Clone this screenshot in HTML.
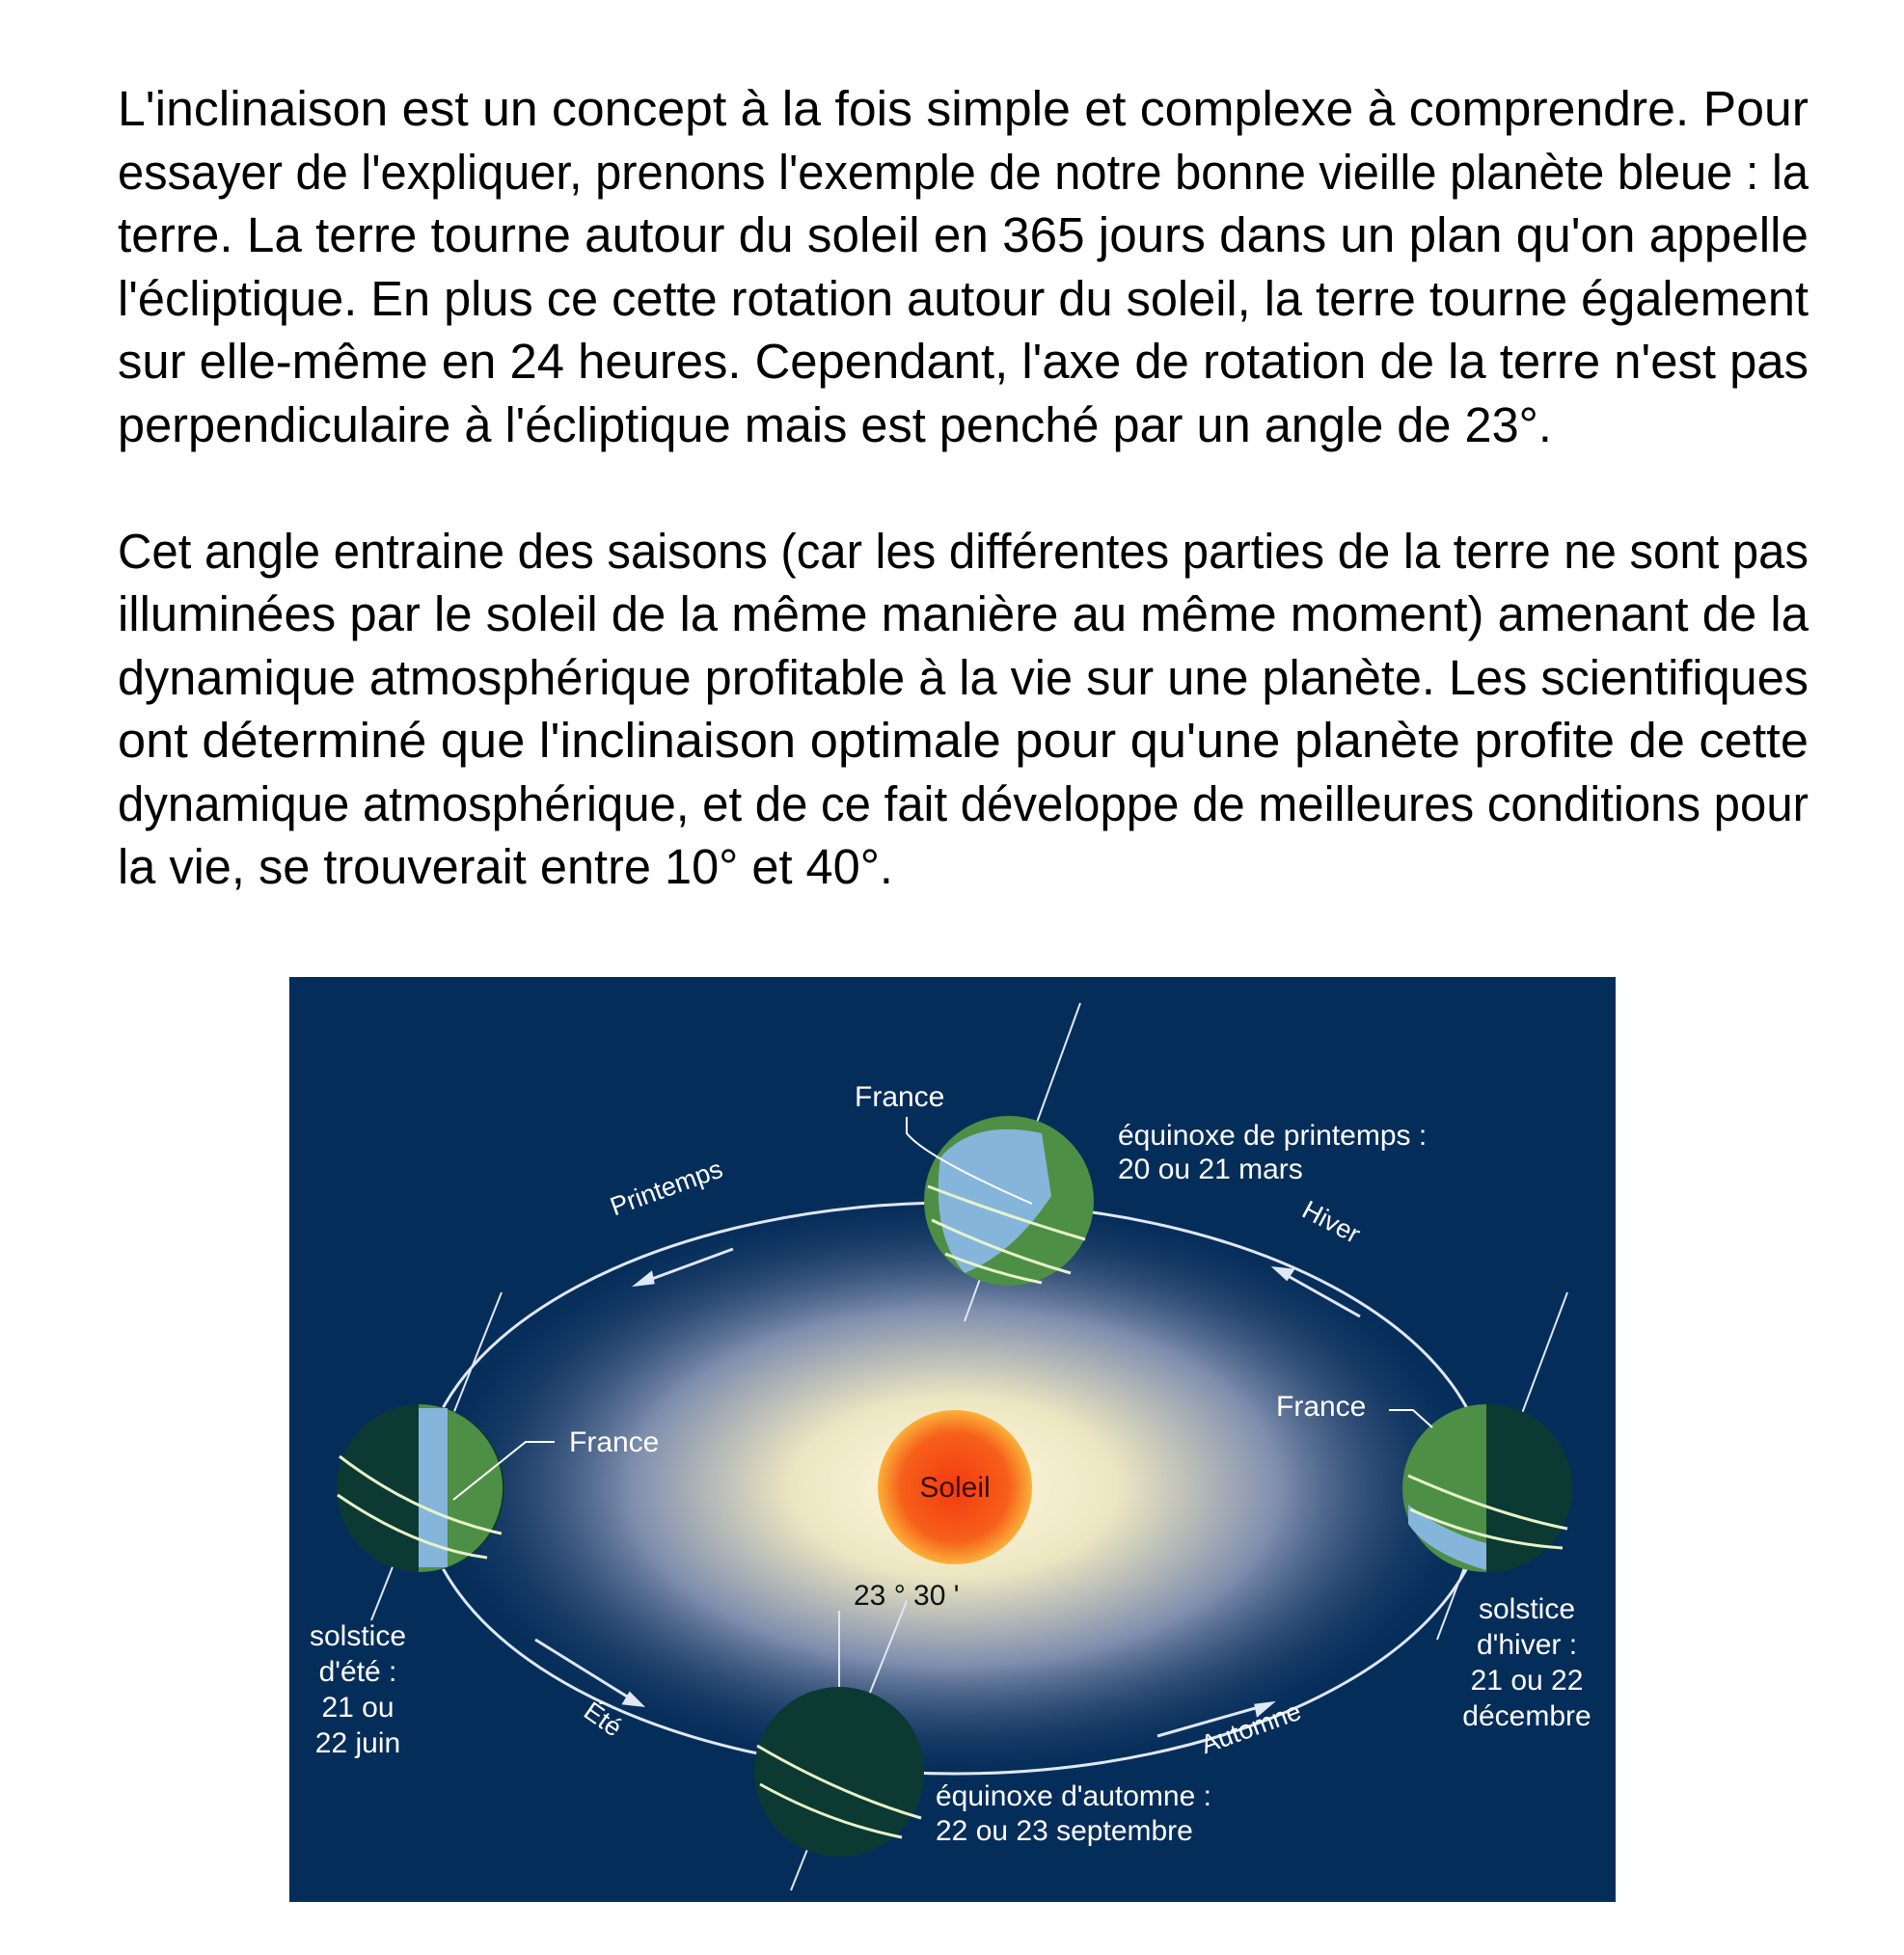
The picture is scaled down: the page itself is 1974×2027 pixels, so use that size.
<!DOCTYPE html>
<html><head><meta charset="utf-8">
<style>
html,body{margin:0;padding:0;background:#fff;width:1974px;height:2027px;overflow:hidden}
#text{position:absolute;left:122px;top:80px;width:1753px;font-family:"Liberation Sans",sans-serif;font-size:51px;color:#000}
.ln{height:65.5px;line-height:65.5px;white-space:nowrap}
.ln span{display:inline-block;transform-origin:0 50%}
#fig{position:absolute;left:300px;top:1013px}
</style></head><body>
<div id="text">
<div class="ln j"><span>L'inclinaison est un concept à la fois simple et complexe à comprendre. Pour</span></div>
<div class="ln j"><span>essayer de l'expliquer, prenons l'exemple de notre bonne vieille planète bleue : la</span></div>
<div class="ln j"><span>terre. La terre tourne autour du soleil en 365 jours dans un plan qu'on appelle</span></div>
<div class="ln j"><span>l'écliptique. En plus ce cette rotation autour du soleil, la terre tourne également</span></div>
<div class="ln j"><span>sur elle-même en 24 heures. Cependant, l'axe de rotation de la terre n'est pas</span></div>
<div class="ln"><span>perpendiculaire à l'écliptique mais est penché par un angle de 23°.</span></div>
<div class="ln"></div>
<div class="ln j"><span>Cet angle entraine des saisons (car les différentes parties de la terre ne sont pas</span></div>
<div class="ln j"><span>illuminées par le soleil de la même manière au même moment) amenant de la</span></div>
<div class="ln j"><span>dynamique atmosphérique profitable à la vie sur une planète. Les scientifiques</span></div>
<div class="ln j"><span>ont déterminé que l'inclinaison optimale pour qu'une planète profite de cette</span></div>
<div class="ln j"><span>dynamique atmosphérique, et de ce fait développe de meilleures conditions pour</span></div>
<div class="ln"><span>la vie, se trouverait entre 10° et 40°.</span></div>
</div>

<svg id="fig" width="1375" height="959" viewBox="300 1013 1375 959" font-family="Liberation Sans, sans-serif">
<defs>
<radialGradient id="glow" cx="990" cy="1542" r="560" gradientUnits="userSpaceOnUse" gradientTransform="translate(990 1542) scale(1 0.55) translate(-990 -1542)">
<stop offset="0" stop-color="#fffbe0"/><stop offset="0.3" stop-color="#ede6c2"/><stop offset="0.6" stop-color="#7f8eae"/><stop offset="1" stop-color="#082d5a" stop-opacity="0"/></radialGradient>
<radialGradient id="sun"><stop offset="0" stop-color="#f33a10"/><stop offset="0.7" stop-color="#f6601a"/><stop offset="1" stop-color="#fbb03a"/></radialGradient>
</defs>
<rect x="300" y="1013" width="1375" height="959" fill="#052d5a"/>
<ellipse cx="990" cy="1542" rx="620" ry="360" fill="url(#glow)"/>
<ellipse cx="990" cy="1543" rx="553" ry="296" fill="none" stroke="#dfe8f5" stroke-width="3"/>
<g stroke="#dfe8f5" stroke-width="3" fill="#dfe8f5">
<line x1="760" y1="1295" x2="665" y2="1330"/><path d="M660 1332 l15 -12 l2 10z"/>
<line x1="1410" y1="1365" x2="1330" y2="1320"/><path d="M1322 1315 l18 2 l-6 9z"/>
<line x1="555" y1="1700" x2="655" y2="1762"/><path d="M665 1768 l-18 -2 l6 -10z"/>
<line x1="1200" y1="1800" x2="1305" y2="1770"/><path d="M1318 1766 l-14 12 l-2 -10z"/>
</g>
<circle cx="990" cy="1542" r="80" fill="url(#sun)"/>
<text x="990" y="1552" font-size="30" text-anchor="middle" fill="#3a0a05">Soleil</text>

<g>
<line x1="1120" y1="1040" x2="1000" y2="1370" stroke="#dfe8f5" stroke-width="2"/>
<circle cx="1046" cy="1245" r="88" fill="#4e8f46"/>
<path d="M975 1200 Q1010 1160 1080 1175 L1090 1240 Q1050 1300 1000 1320 Q965 1280 975 1200Z" fill="#86b5dc"/>
<path d="M962 1230 Q1040 1260 1125 1285 M966 1265 Q1040 1300 1110 1320 M980 1300 Q1030 1320 1080 1330" stroke="#e6f3c8" stroke-width="3" fill="none"/>
<path d="M940 1158 L940 1175 Q960 1200 1070 1248" stroke="#fff" stroke-width="2" fill="none"/>
</g>
<g>
<line x1="520" y1="1340" x2="385" y2="1680" stroke="#dfe8f5" stroke-width="2"/>
<circle cx="436" cy="1543" r="87" fill="#0c3a32"/>
<path d="M434 1456 A87 87 0 0 1 434 1630Z" fill="#4e8f46"/>
<rect x="434" y="1460" width="30" height="165" fill="#86b5dc"/>
<path d="M352 1510 Q430 1570 520 1590 M350 1550 Q430 1605 505 1615" stroke="#e6f3c8" stroke-width="3" fill="none"/>
<path d="M575 1495 L545 1495 L470 1555" stroke="#fff" stroke-width="2" fill="none"/>
</g>
<g>
<line x1="1625" y1="1340" x2="1490" y2="1700" stroke="#dfe8f5" stroke-width="2"/>
<circle cx="1543" cy="1543" r="87" fill="#0c3a32"/>
<path d="M1541 1456 A87 87 0 0 0 1541 1630Z" fill="#4e8f46"/>
<path d="M1460 1560 Q1500 1590 1541 1600 L1541 1628 Q1480 1610 1460 1580Z" fill="#86b5dc"/>
<path d="M1460 1530 Q1550 1570 1625 1585 M1462 1565 Q1540 1600 1620 1605" stroke="#e6f3c8" stroke-width="3" fill="none"/>
<path d="M1440 1462 L1465 1462 L1485 1480" stroke="#fff" stroke-width="2" fill="none"/>
</g>
<g>
<line x1="940" y1="1660" x2="820" y2="1960" stroke="#dfe8f5" stroke-width="2"/>
<line x1="870" y1="1670" x2="870" y2="1760" stroke="#dfe8f5" stroke-width="2"/>
<circle cx="870" cy="1837" r="88" fill="#0c3a32"/>
<path d="M785 1810 Q870 1860 955 1885 M788 1850 Q860 1890 935 1905" stroke="#e6f3c8" stroke-width="3" fill="none"/>
</g>

<g fill="#fff" font-size="30">
<text x="886" y="1147">France</text>
<text x="1159" y="1187">équinoxe de printemps :</text>
<text x="1159" y="1222">20 ou 21 mars</text>
<text x="694" y="1240" transform="rotate(-20 694 1240)" text-anchor="middle" font-size="27">Printemps</text>
<text x="1376" y="1275" transform="rotate(28 1376 1275)" text-anchor="middle" font-size="27">Hiver</text>
<text x="590" y="1505">France</text>
<text x="1323" y="1468">France</text>
<text x="371" y="1706" text-anchor="middle"><tspan x="371">solstice</tspan><tspan x="371" dy="37">d'été :</tspan><tspan x="371" dy="37">21 ou</tspan><tspan x="371" dy="37">22 juin</tspan></text>
<text x="1583" y="1678" text-anchor="middle"><tspan x="1583">solstice</tspan><tspan x="1583" dy="37">d'hiver :</tspan><tspan x="1583" dy="37">21 ou 22</tspan><tspan x="1583" dy="37">décembre</tspan></text>
<text x="620" y="1790" transform="rotate(35 620 1790)" text-anchor="middle" font-size="27">Été</text>
<text x="1300" y="1800" transform="rotate(-20 1300 1800)" text-anchor="middle" font-size="27">Automne</text>
<text x="970" y="1872">équinoxe d'automne :</text>
<text x="970" y="1908">22 ou 23 septembre</text>
</g>
<text x="885" y="1664" font-size="30" fill="#111">23 ° 30 '</text>
</svg>
<script>
var W=1753;
var spans=document.querySelectorAll('.ln span');
var scales=[],sum=0,n=0;
spans.forEach(function(s,i){
  var w=s.getBoundingClientRect().width;
  if(s.parentNode.classList.contains('j') && w>0){scales[i]=W/w;sum+=W/w;n++;}
});
var avg=n?sum/n:0.9;
spans.forEach(function(s,i){
  s.style.transform='scaleX('+(scales[i]||avg)+')';
});
</script>
</body></html>
